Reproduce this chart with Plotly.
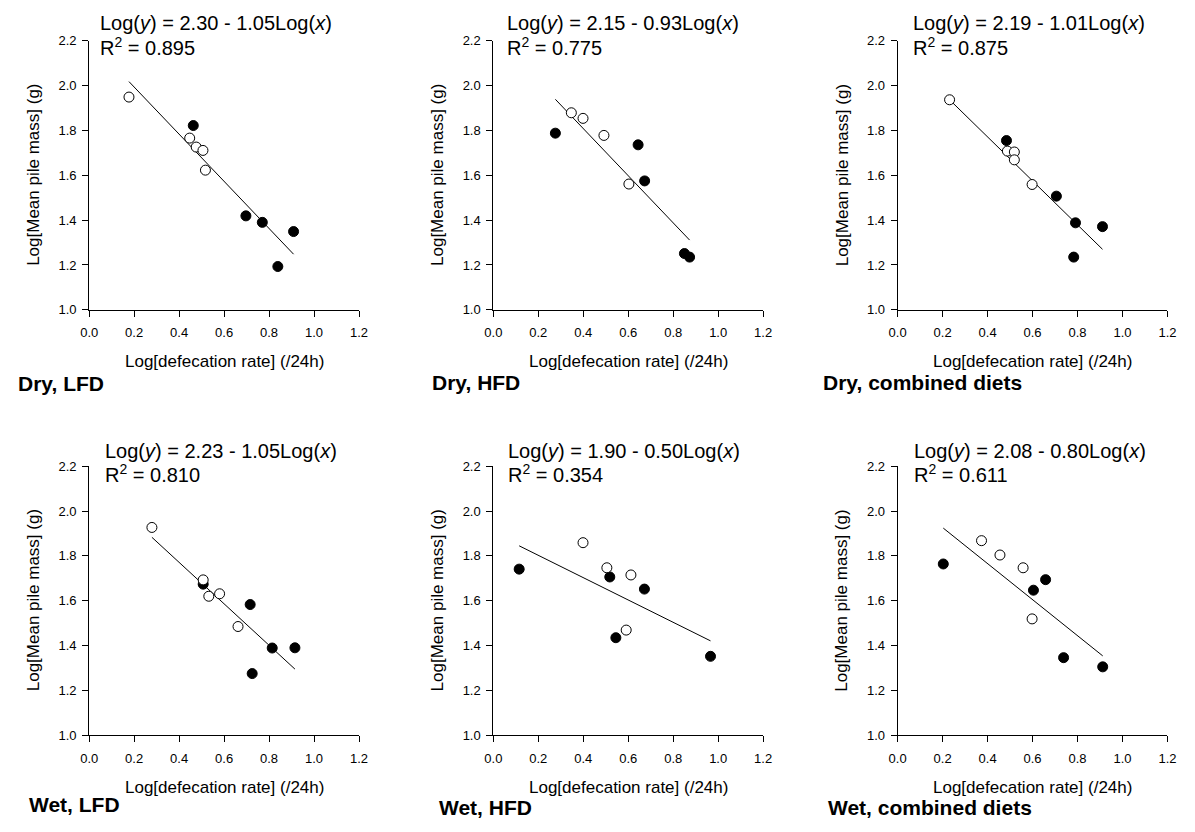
import plotly.graph_objects as go

# ---------------- data ----------------
panel_labels = ["Dry, LFD", "Dry, HFD", "Dry, combined diets",
                "Wet, LFD", "Wet, HFD", "Wet, combined diets"]
intercepts = [2.30, 2.15, 2.19, 2.23, 1.90, 2.08]
slopes = [1.05, 0.93, 1.01, 1.05, 0.50, 0.80]
r_squared = [0.895, 0.775, 0.875, 0.810, 0.354, 0.611]

x_title = "Log[defecation rate] (/24h)"
y_title = "Log[Mean pile mass] (g)"
x_ticks = [0.0, 0.2, 0.4, 0.6, 0.8, 1.0, 1.2]
y_ticks = [1.0, 1.2, 1.4, 1.6, 1.8, 2.0, 2.2]

# Dry, LFD
dry_lfd_open_x = [0.177, 0.447, 0.476, 0.506, 0.517]
dry_lfd_open_y = [1.949, 1.766, 1.726, 1.711, 1.623]
dry_lfd_filled_x = [0.463, 0.697, 0.770, 0.909, 0.839]
dry_lfd_filled_y = [1.822, 1.419, 1.390, 1.349, 1.193]
dry_lfd_line_x = [0.177, 0.909]
dry_lfd_line_y = [2.018, 1.248]

# Dry, HFD
dry_hfd_open_x = [0.347, 0.399, 0.492, 0.603]
dry_hfd_open_y = [1.879, 1.854, 1.778, 1.561]
dry_hfd_filled_x = [0.276, 0.644, 0.673, 0.850, 0.873]
dry_hfd_filled_y = [1.788, 1.736, 1.575, 1.251, 1.235]
dry_hfd_line_x = [0.276, 0.873]
dry_hfd_line_y = [1.939, 1.311]

# Dry, combined diets
dry_comb_open_x = [0.231, 0.488, 0.519, 0.519, 0.598]
dry_comb_open_y = [1.937, 1.708, 1.704, 1.669, 1.559]
dry_comb_filled_x = [0.484, 0.706, 0.791, 0.911, 0.783]
dry_comb_filled_y = [1.755, 1.507, 1.388, 1.371, 1.235]
dry_comb_line_x = [0.231, 0.911]
dry_comb_line_y = [1.937, 1.270]

# Wet, LFD
wet_lfd_open_x = [0.279, 0.507, 0.532, 0.580, 0.662]
wet_lfd_open_y = [1.927, 1.693, 1.620, 1.631, 1.485]
wet_lfd_filled_x = [0.507, 0.716, 0.814, 0.915, 0.725]
wet_lfd_filled_y = [1.674, 1.583, 1.389, 1.390, 1.275]
wet_lfd_line_x = [0.279, 0.915]
wet_lfd_line_y = [1.883, 1.295]

# Wet, HFD
wet_hfd_open_x = [0.399, 0.505, 0.612, 0.591]
wet_hfd_open_y = [1.859, 1.747, 1.715, 1.469]
wet_hfd_filled_x = [0.115, 0.518, 0.672, 0.545, 0.966]
wet_hfd_filled_y = [1.741, 1.706, 1.652, 1.435, 1.352]
wet_hfd_line_x = [0.115, 0.966]
wet_hfd_line_y = [1.845, 1.421]

# Wet, combined diets
wet_comb_open_x = [0.373, 0.455, 0.558, 0.598]
wet_comb_open_y = [1.868, 1.804, 1.747, 1.519]
wet_comb_filled_x = [0.203, 0.658, 0.604, 0.738, 0.912]
wet_comb_filled_y = [1.764, 1.694, 1.647, 1.346, 1.305]
wet_comb_line_x = [0.203, 0.912]
wet_comb_line_y = [1.924, 1.354]

panels = [
    (dry_lfd_open_x, dry_lfd_open_y, dry_lfd_filled_x, dry_lfd_filled_y, dry_lfd_line_x, dry_lfd_line_y),
    (dry_hfd_open_x, dry_hfd_open_y, dry_hfd_filled_x, dry_hfd_filled_y, dry_hfd_line_x, dry_hfd_line_y),
    (dry_comb_open_x, dry_comb_open_y, dry_comb_filled_x, dry_comb_filled_y, dry_comb_line_x, dry_comb_line_y),
    (wet_lfd_open_x, wet_lfd_open_y, wet_lfd_filled_x, wet_lfd_filled_y, wet_lfd_line_x, wet_lfd_line_y),
    (wet_hfd_open_x, wet_hfd_open_y, wet_hfd_filled_x, wet_hfd_filled_y, wet_hfd_line_x, wet_hfd_line_y),
    (wet_comb_open_x, wet_comb_open_y, wet_comb_filled_x, wet_comb_filled_y, wet_comb_line_x, wet_comb_line_y),
]

# ---------------- layout geometry (screen pixels) ----------------
# The page body keeps its default 8px margin: the figure is shrunk to fit the
# window and every position below is given in window pixels minus that offset.
OFF = 8
W, H = 1195 - 2 * OFF, 832 - 2 * OFF
FONT = "Liberation Sans, Arial, sans-serif"
plot_left = [81.3, 491.7, 902.3, 81.3, 491.7, 902.3]
plot_top = [34.3, 34.3, 34.3, 467.7, 467.7, 467.7]
PW, PH = 274.0, 274.0
eq_left = [90.7, 503.3, 915.7, 95.7, 505.0, 916.7]
eq_y1 = [16.5, 16.5, 16.5, 452.5, 452.5, 452.5]
eq_y2 = [40.0, 40.0, 40.0, 475.0, 475.0, 475.0]
lab_left = [7.3, 427.3, 824.0, 18.3, 435.0, 830.0]
lab_y = [383.0, 382.0, 382.0, 812.5, 815.0, 815.0]
EQ_SIZE = 20


def fx(p):
    return (p - OFF) / W


def fy(p):
    return 1 - (p - OFF) / H


def ital(s):
    return f'<span style="font-style:italic;font-size:{EQ_SIZE}px">{s}</span>'


fig = go.Figure()
annotations = []
layout_axes = {}

for i, (ox, oy, fxs, fys, lx, ly) in enumerate(panels):
    n = i + 1
    xa = "x" if n == 1 else f"x{n}"
    ya = "y" if n == 1 else f"y{n}"
    fig.add_trace(go.Scatter(x=lx, y=ly, mode="lines", xaxis=xa, yaxis=ya,
                             line=dict(color="black", width=1), hoverinfo="skip"))
    fig.add_trace(go.Scatter(x=fxs, y=fys, mode="markers", xaxis=xa, yaxis=ya,
                             marker=dict(symbol="circle", size=10, color="black",
                                         line=dict(color="black", width=1))))
    fig.add_trace(go.Scatter(x=ox, y=oy, mode="markers", xaxis=xa, yaxis=ya,
                             marker=dict(symbol="circle", size=10, color="white",
                                         line=dict(color="black", width=1))))

    l, t = plot_left[i], plot_top[i]
    axis_common = dict(showgrid=False, zeroline=False, showline=True,
                       linecolor="black", linewidth=1, ticks="outside",
                       ticklen=6, tickwidth=1, tickcolor="black",
                       tickfont=dict(family=FONT, size=13, color="black"),
                       tickformat=".1f", fixedrange=True, mirror=False)
    layout_axes["xaxis" if n == 1 else f"xaxis{n}"] = dict(
        axis_common, domain=[fx(l), fx(l + PW)], range=[0, 1.2],
        tickvals=x_ticks, anchor=ya, ticklabelstandoff=5)
    layout_axes["yaxis" if n == 1 else f"yaxis{n}"] = dict(
        axis_common, domain=[fy(t + PH), fy(t)], range=[1.0, 2.2],
        tickvals=y_ticks, anchor=xa, ticklabelstandoff=3)

    # regression equation and R^2
    annotations.append(dict(
        x=fx(eq_left[i]), y=fy(eq_y1[i]), xref="paper", yref="paper",
        xanchor="left", yanchor="middle", showarrow=False,
        text=f"Log({ital('y')}) = {intercepts[i]:.2f} - {slopes[i]:.2f}Log({ital('x')})",
        font=dict(family=FONT, size=EQ_SIZE, color="black")))
    annotations.append(dict(
        x=fx(eq_left[i]), y=fy(eq_y2[i]), xref="paper", yref="paper",
        xanchor="left", yanchor="middle", showarrow=False,
        text=f"R<sup>2</sup> = {r_squared[i]:.3f}",
        font=dict(family=FONT, size=EQ_SIZE, color="black")))
    # axis titles
    annotations.append(dict(
        x=fx(l + PW / 2), y=fy(t + PH + 53), xref="paper", yref="paper",
        xanchor="center", yanchor="middle", showarrow=False, text=x_title,
        font=dict(family=FONT, size=17, color="black")))
    annotations.append(dict(
        x=fx(l - 56.5), y=fy(t + PH / 2), xref="paper", yref="paper",
        xanchor="center", yanchor="middle", showarrow=False, text=y_title,
        textangle=-90, font=dict(family=FONT, size=17, color="black")))
    # panel label
    annotations.append(dict(
        x=fx(lab_left[i]), y=fy(lab_y[i]), xref="paper", yref="paper",
        xanchor="left", yanchor="middle", showarrow=False,
        text=f"<b>{panel_labels[i]}</b>",
        font=dict(family=FONT, size=21, color="black")))

fig.update_layout(
    width=W, height=H, margin=dict(l=0, r=0, t=0, b=0),
    paper_bgcolor="white", plot_bgcolor="white", showlegend=False,
    annotations=annotations, **layout_axes)

fig.write_html("out.html")
